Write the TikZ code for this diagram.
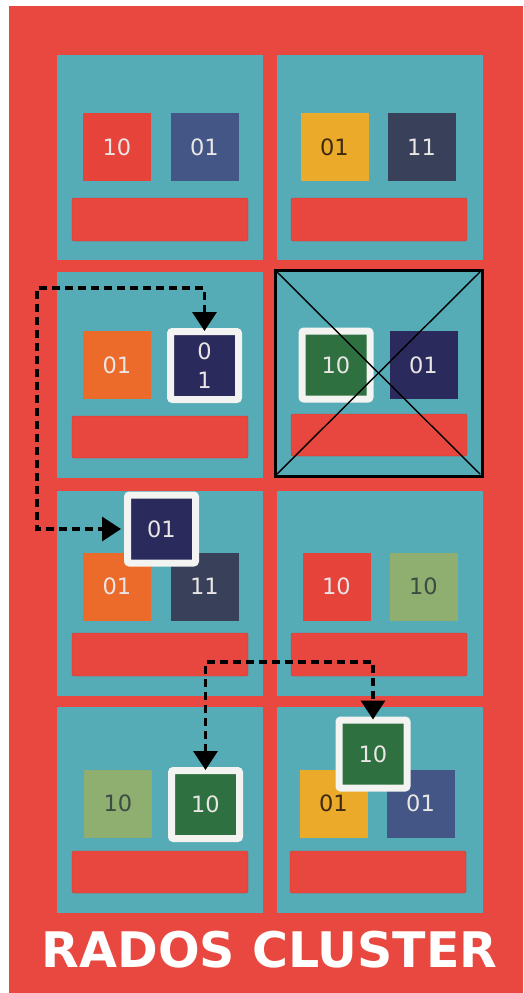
\documentclass[tikz,border=0pt]{standalone}
\usepackage{fontspec}
\newfontfamily\sqfont{DejaVu Sans}
\newfontfamily\ttlfont{DejaVu Sans}
\usetikzlibrary{arrows.meta}
\definecolor{bgred}{HTML}{E8483F}
\definecolor{teal}{HTML}{55ABB6}
\definecolor{barred}{HTML}{E8473F}
\definecolor{cred}{HTML}{E6433A}
\definecolor{cblue}{HTML}{445686}
\definecolor{cyellow}{HTML}{ECAA2A}
\definecolor{cslate}{HTML}{39415A}
\definecolor{corange}{HTML}{EC6B2A}
\definecolor{cnavy}{HTML}{2A2A5C}
\definecolor{cgreen}{HTML}{2E7040}
\definecolor{clgreen}{HTML}{8EAF70}
\definecolor{ltext}{HTML}{EAE6E6}
\definecolor{dtext}{HTML}{3E2A10}
\definecolor{gtext}{HTML}{3D4C42}
\definecolor{wborder}{HTML}{F3F3F1}
\tikzset{
  panel/.style={fill=teal},
  bar/.style={fill=barred, draw=barred!85!black, line width=0.4pt, rounded corners=2pt},
  sq/.style={rectangle, minimum width=68pt, minimum height=68pt, inner sep=0pt,
             font=\sqfont\fontsize{22.5}{29}\selectfont, text=ltext},
  bsq/.style={rectangle, minimum width=68pt, minimum height=68pt, inner sep=0pt,
             draw=wborder, line width=7pt, rounded corners=2pt,
             font=\sqfont\fontsize{22.5}{29}\selectfont, text=ltext},
  dlink/.style={line width=3.4pt, dash pattern=on 8pt off 5pt,
                {Triangle[width=24pt,length=19pt]}-{Triangle[width=24pt,length=19pt]}},
}
\begin{document}
\begin{tikzpicture}[x=1pt,y=-1pt]
\useasboundingbox (0,0) rectangle (523,993);
\fill[white] (0,0) rectangle (523,993);
\fill[bgred] (9,6) rectangle (523,993);
% panels
\fill[panel] (57,55) rectangle (263,260);
\fill[panel] (277,55) rectangle (483,260);
\fill[panel] (57,272) rectangle (263,478);
\fill[panel] (275,270) rectangle (482,476);
\fill[panel] (57,491) rectangle (263,696);
\fill[panel] (277,491) rectangle (483,696);
\fill[panel] (57,707) rectangle (263,913);
\fill[panel] (277,707) rectangle (483,913);
% bars
\path[bar] (72,198) rectangle (248,241);
\path[bar] (291,198) rectangle (467,241);
\path[bar] (72,416) rectangle (248,458);
\path[bar] (291,414) rectangle (467,456);
\path[bar] (72,633) rectangle (248,676);
\path[bar] (291,633) rectangle (467,676);
\path[bar] (72,851) rectangle (248,893);
\path[bar] (290,851) rectangle (466,893);
% row 1
\node[sq, fill=cred] (a1) at (117,147) {10};
\node[sq, fill=cblue] (a2) at (204.5,147) {01};
\node[sq, fill=cyellow, text=dtext] (b1) at (334.5,147) {01};
\node[sq, fill=cslate] (b2) at (421.5,147) {11};
% row 2
\node[sq, fill=corange] (c1) at (117,365) {01};
\node[bsq, fill=cnavy, align=center] (c2) at (204.5,365.5) {0\\1};
\node[bsq, fill=cgreen] (d1) at (336,365) {10};
\node[sq, fill=cnavy] (d2) at (423.5,365) {01};
% failed node frame and cross
\draw[line width=3pt] (275,270) rectangle (482,476);
\draw[line width=1.4pt] (277,272) -- (480,474);
\draw[line width=1.4pt] (480,272) -- (277,474);
% row 3
\node[sq, fill=corange] (e1) at (117,586.5) {01};
\node[sq, fill=cslate] (e2) at (204.5,586.5) {11};
\node[sq, fill=cred] (f1) at (336.5,586.5) {10};
\node[sq, fill=clgreen, text=gtext] (f2) at (423.5,586.5) {10};
\node[bsq, fill=cnavy] (e3) at (161.5,529) {01};
% row 4
\node[sq, fill=clgreen, text=gtext] (g1) at (118,803.5) {10};
\node[bsq, fill=cgreen] (g2) at (205.5,804.5) {10};
\node[sq, fill=cyellow, text=dtext] (h1) at (333.5,803.5) {01};
\node[sq, fill=cblue] (h2) at (420.5,803.5) {01};
\node[bsq, fill=cgreen] (h3) at (373,754) {10};
% connectors
\coordinate (k1) at (37,288);
\coordinate (k2) at (290,662);
\draw[dlink] ([yshift=-3pt]c2.north) |- (k1) |- ([xshift=-3pt]e3.west);
\draw[dlink] ([yshift=-3pt]g2.north) |- (k2) -| ([yshift=-3pt]h3.north);
% title
\node[text=white, font=\ttlfont\bfseries\fontsize{49}{55}\selectfont] (title) at (269.5,949.5) {RADOS CLUSTER};
\end{tikzpicture}
\end{document}
